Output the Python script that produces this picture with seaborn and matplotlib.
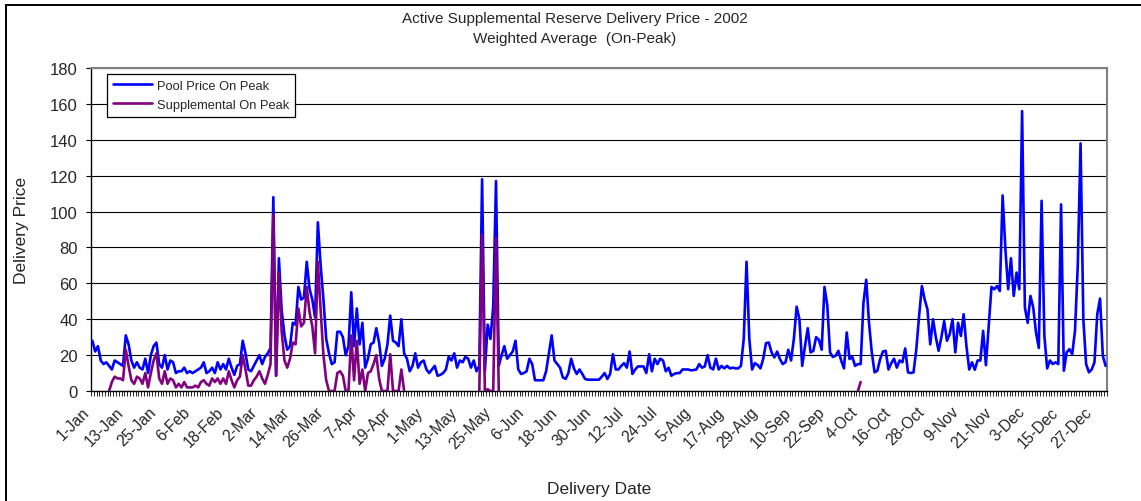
import numpy as np
import pandas as pd
import matplotlib
matplotlib.use("Agg")
import matplotlib.pyplot as plt
import matplotlib.transforms as mtransforms
from matplotlib.lines import Line2D
from matplotlib.patches import Rectangle
import seaborn as sns

nan = np.nan

# Daily on-peak pool price, one list per month of 2002
pool_jan = [28, 22, 25, 17, 15, 16, 14, 12, 17, 16, 15, 14, 31, 26, 17, 13, 16, 13, 12, 18,
            10, 20, 25, 27, 15, 13, 20, 12, 17, 16, 10]
pool_feb = [11, 11, 13, 10, 11, 10, 11, 12, 13, 16, 10, 11, 13, 10, 16, 12, 15, 12, 18, 13,
            9, 14, 15, 28, 21, 12, 11, 14]
pool_mar = [17, 20, 15, 19, 21, 24, 108, 8.5, 74, 45, 31, 23, 25, 38, 37, 58, 51, 52, 72, 57,
            51, 41, 94, 70, 51, 29, 21, 15, 16, 33, 33]
pool_apr = [30, 20, 25, 55, 25, 46, 26, 38, 13, 18, 26, 27, 35, 27, 14, 18, 26, 42, 28, 27,
            25, 40, 21, 18, 11, 14, 21, 13, 16, 17]
pool_may = [12, 10, 12, 14, 8.5, 9, 10, 12, 19, 17, 21, 13, 17, 16, 19, 18, 13, 17, 11, 14,
            118, 11, 37, 29, 47, 117, 14, 20, 25, 18, 20]
pool_jun = [22, 28, 12, 9.5, 10, 11, 18, 15, 6, 6, 6, 6, 11, 21, 31, 17, 15, 13, 7.6, 6.7,
            10, 18, 12.6, 9.5, 12, 9.5, 6.7, 6.3, 6.3, 6.3]
pool_jul = [6.3, 6.3, 8, 10, 6.7, 9.5, 20.5, 12, 12, 14, 15.5, 13, 22, 9.5, 12, 13.7, 13.7,
            13.7, 10, 20.5, 11, 18, 15, 18, 17, 11, 13, 8.5, 9.5, 10, 10]
pool_aug = [12, 12, 12, 11.5, 11.7, 12, 15, 13, 13.7, 20, 13, 12, 18, 12, 14, 12.6, 14, 12.6,
            13, 12.6, 12.6, 14, 29, 72, 29, 12, 15.5, 14.5, 12.6, 18, 26.7]
pool_sep = [27, 21.5, 18.7, 22, 17.8, 15, 16, 23, 17, 29, 47, 40, 14, 25, 35, 21.5, 22.4, 30,
            28.5, 23, 58, 48, 21.5, 19, 19.6, 22.4, 17, 12.6, 32.6, 17.8]
pool_oct = [19, 14, 15, 15, 49, 62, 38, 21.5, 10.4, 11.3, 17.8, 22, 22.4, 12, 15.5, 18, 13, 17,
            16, 23.7, 10.4, 10, 10.4, 23.3, 42, 58.5, 51, 45.5, 26, 40, 30]
pool_nov = [22.4, 30, 39, 28, 31.7, 40, 21.5, 38, 30.7, 42.8, 25, 12, 16, 11.8, 17, 17, 33.5,
            14.4, 36, 58, 56.7, 58.5, 55.7, 109, 79, 56.7, 74, 53, 66, 56.7]
pool_dec = [156, 46.5, 38, 53, 46.5, 32.6, 24, 106, 30.7, 12.6, 17, 15, 16, 15, 104, 11.3,
            21.5, 23.3, 20.5, 33.5, 70, 138, 40, 15, 10.4, 12, 16, 42.8, 51.5, 19.6, 14]

# Daily supplemental reserve on-peak price (gaps where no supplemental reserve was dispatched)
supp_jan = [nan] * 6 + [0, 5, 8, 7, 7, 6, 23, 14, 6, 4, 8, 7, 4, 10, 2, 10, 17, 21, 7, 4, 11,
                        4, 7, 6, 2]
supp_feb = [4, 2, 5, 2, 2, 2, 3, 2, 5, 6, 4, 3, 7, 5, 7, 4, 7, 4, 11, 6, 2, 6, 8, 20, 12, 3,
            3, 6]
supp_mar = [8, 11, 7, 4, 9, 15, 98, 8.5, 66, 33, 17, 13, 18, 27, 26, 46, 36, 38, 58, 44, 36,
            21, 72, 45, 20, 6, 0, 0, 0, 10, 11]
supp_apr = [8.5, 0, 0, 31, 6, 28, 4, 12, 0, 10, 11, 15, 20, 7, 0, 0, 0, 20.5, 0, 0, 0, 12, 0] + [nan] * 7
supp_may = [nan] * 19 + [0, 87, 0, 1, 0, 0, 85, 0] + [nan] * 4
supp_jun = [nan] * 30
supp_jul = [nan] * 31
supp_aug = [nan] * 31
supp_sep = [nan] * 30
supp_oct = [nan] * 2 + [0, 5] + [nan] * 27
supp_nov = [nan] * 30
supp_dec = [nan] * 31

tick_labels = ["1-Jan", "13-Jan", "25-Jan", "6-Feb", "18-Feb", "2-Mar", "14-Mar", "26-Mar",
               "7-Apr", "19-Apr", "1-May", "13-May", "25-May", "6-Jun", "18-Jun", "30-Jun",
               "12-Jul", "24-Jul", "5-Aug", "17-Aug", "29-Aug", "10-Sep", "22-Sep", "4-Oct",
               "16-Oct", "28-Oct", "9-Nov", "21-Nov", "3-Dec", "15-Dec", "27-Dec"]

pool = np.array(pool_jan + pool_feb + pool_mar + pool_apr + pool_may + pool_jun + pool_jul
                + pool_aug + pool_sep + pool_oct + pool_nov + pool_dec, dtype=float)
supp = np.array(supp_jan + supp_feb + supp_mar + supp_apr + supp_may + supp_jun + supp_jul
                + supp_aug + supp_sep + supp_oct + supp_nov + supp_dec, dtype=float)
days = np.arange(len(pool))

pool_df = pd.DataFrame({"day": days, "price": pool})

# Split the supplemental series into its unbroken runs so gaps stay open
valid = ~np.isnan(supp)
run_id = np.cumsum(np.r_[True, valid[1:] != valid[:-1]])
supp_df = pd.DataFrame({"day": days, "price": supp, "run": run_id})[valid]

sns.set_style("white")
plt.rcParams["font.family"] = ["Liberation Sans", "DejaVu Sans"]

W, H = 1141, 502
fig = plt.figure(figsize=(W / 100, H / 100), dpi=100)
ax_l, ax_r, ax_t, ax_b = 91, 1107, 69, 392
ax = fig.add_axes([ax_l / W, 1 - ax_b / H, (ax_r - ax_l) / W, (ax_b - ax_t) / H])

BLUE = "#0000FF"
PURPLE = "#800080"

sns.lineplot(data=pool_df, x="day", y="price", color=BLUE, linewidth=1.9, ax=ax,
             estimator=None, zorder=3)
sns.lineplot(data=supp_df, x="day", y="price", units="run", estimator=None, color=PURPLE,
             linewidth=1.9, ax=ax, zorder=4)

ax.set_xlim(-0.5, len(days) - 0.5)
ax.set_ylim(0, 180)
ax.set_yticks(np.arange(0, 181, 20))
ax.yaxis.grid(True, color="black", linewidth=0.8)
ax.set_axisbelow(True)
ax.tick_params(axis="y", which="major", direction="out", length=3.6, width=0.8,
               color="black", labelsize=12, pad=6, left=True)

ax.set_xticks(np.arange(0, len(days), 12))
ax.set_xticklabels(tick_labels, rotation=45, ha="right", va="center",
                   rotation_mode="anchor", fontsize=11.2)
ax.set_xticks(np.arange(-0.5, len(days), 1), minor=True)
ax.tick_params(axis="x", which="major", length=0, pad=13)
ax.tick_params(axis="x", which="minor", direction="out", length=3.5, width=0.6,
               color="black", bottom=True)
shift = mtransforms.ScaledTranslation(-5 / 100, 0, fig.dpi_scale_trans)
for lbl in ax.get_xticklabels():
    lbl.set_transform(lbl.get_transform() + shift)

for side in ("left", "bottom"):
    ax.spines[side].set_color("black")
    ax.spines[side].set_linewidth(1.0)
for side in ("top", "right"):
    ax.spines[side].set_color("#808080")
    ax.spines[side].set_linewidth(1.5)

ax.set_xlabel("Delivery Date", fontsize=12.5)
ax.set_ylabel("Delivery Price", fontsize=12.5)
ax.xaxis.set_label_coords(0.5, (ax_b - 482) / (ax_b - ax_t))
ax.yaxis.set_label_coords((29 - ax_l) / (ax_r - ax_l), 0.5)

handles = [Line2D([], [], color=BLUE, linewidth=1.9),
           Line2D([], [], color=PURPLE, linewidth=1.9)]
leg = ax.legend(handles, ["Pool Price On Peak", "Supplemental On Peak"],
                loc="upper left", bbox_to_anchor=((107 - ax_l) / (ax_r - ax_l),
                                                 (ax_b - 75) / (ax_b - ax_t)),
                borderaxespad=0, frameon=True, fancybox=False, framealpha=1,
                edgecolor="black", fontsize=9.3, handlelength=3.0, handletextpad=0.4,
                labelspacing=0.55, borderpad=0.45)
leg.get_frame().set_linewidth(0.9)

fig.text(0.504, 1 - 19 / H, "Active Supplemental Reserve Delivery Price - 2002",
         ha="center", va="center", fontsize=11)
fig.text(0.504, 1 - 39 / H, "Weighted Average  (On-Peak)",
         ha="center", va="center", fontsize=11)

fig.patches.append(Rectangle((6 / W, -0.05), 1.2, 1.05 - 6 / H, transform=fig.transFigure,
                             fill=False, edgecolor="black", linewidth=1.4))

fig.savefig("out.png", dpi=100)
